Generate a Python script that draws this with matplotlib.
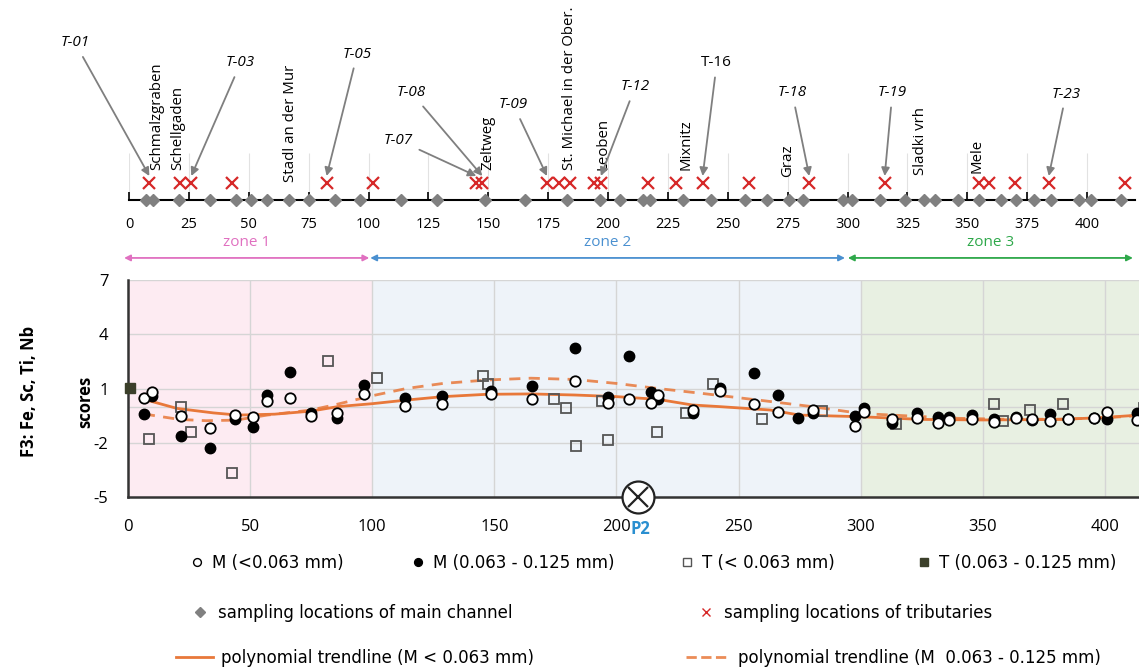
import matplotlib
matplotlib.use("Agg")
import matplotlib.pyplot as plt
from matplotlib.lines import Line2D

plt.rcParams["font.family"] = ["Open Sans", "DejaVu Sans"]
plt.rcParams["axes.unicode_minus"] = False

# --- data -------------------------------------------------------------
# top panel: river km of sampling locations
main_km = [7, 10, 21, 34, 44.5, 51, 57.5, 67, 75, 86, 96.5, 113.5, 128.5, 148.5,
           165.5, 183, 196.5, 205, 214.5, 217.5, 231.5, 243, 257, 266.5, 275.5,
           281.5, 298, 302, 313.5, 324, 332, 336.5, 346, 355, 364, 370.5, 378,
           385, 396.5, 401.5, 414]
trib_km = [8.5, 21.5, 26, 43, 82.5, 102, 145, 147.5, 174.5, 179.5, 184, 194, 197,
           216.5, 228.5, 239.5, 259, 284, 315.5, 355, 359, 370, 384, 416]

places = ["Schmalzgraben", "Schellgaden", "Stadl an der Mur", "Zeltweg",
          "St. Michael in der Ober.", "Leoben", "Mixnitz", "Graz", "Sladki vrh", "Mele"]
place_km = [11.5, 20.5, 67.5, 150, 184, 198, 232.5, 275, 330.5, 354]

trib_labels = ["T-01", "T-03", "T-05", "T-07", "T-08", "T-09", "T-12", "T-16",
               "T-18", "T-19", "T-23"]
trib_label_km = [8.5, 26, 82.5, 145, 147.5, 174.5, 197, 239.5, 284, 315.5, 384]

# bottom panel: F3 scores
m_fine_x = [6.5, 10, 21.5, 33.5, 44, 51, 57, 66.5, 75, 85.5, 96.5, 113.5, 128.5,
            148.5, 165.5, 183, 196.5, 205, 214, 217, 231.5, 242.5, 256.5, 266,
            280.5, 297.5, 301.5, 313, 323, 331.5, 336, 345.5, 354.5, 363.5, 370,
            377.5, 385, 395.5, 401, 413]
m_fine_y = [0.46, 0.79, -0.52, -1.17, -0.47, -0.6, 0.32, 0.49, -0.5, -0.38, 0.67,
            0.05, 0.12, 0.68, 0.42, 1.43, 0.18, 0.42, 0.18, 0.64, -0.19, 0.88, 0.14,
            -0.32, -0.19, -1.06, -0.32, -0.69, -0.65, -0.93, -0.75, -0.69, -0.84,
            -0.65, -0.71, -0.8, -0.71, -0.65, -0.28, -0.75]

m_coarse_x = [6.5, 10, 21.5, 33.5, 44, 51, 57, 66.5, 75, 85.5, 96.5, 113.5, 128.5,
              148.5, 165.5, 183, 196.5, 205, 214, 217, 231.5, 242.5, 256.5, 266,
              274.5, 280.5, 297.5, 301.5, 313, 323, 331.5, 336, 345.5, 354.5,
              363.5, 370, 377.5, 385, 395.5, 401, 413]
m_coarse_y = [-0.43, 0.58, -1.61, -2.31, -0.71, -1.11, 0.64, 1.93, -0.34, -0.65,
              1.19, 0.46, 0.58, 0.88, 1.14, 3.22, 0.51, 2.8, 0.82, 0.4, -0.38, 1.04,
              1.84, 0.64, -0.61, -0.38, -0.5, -0.1, -0.93, -0.34, -0.56, -0.6,
              -0.47, -0.71, -0.56, -0.75, -0.41, -0.71, -0.65, -0.69, -0.38]

t_fine_x = [8.5, 21.5, 26, 42.5, 82, 102, 145.5, 147.5, 174.5, 179.5, 183.5, 194,
            196.5, 216.5, 228.5, 239.5, 259.5, 284, 314.5, 354.5, 358.5, 369.5,
            383, 416]
t_fine_y = [-1.79, -0.02, -1.41, -3.7, 2.5, 1.6, 1.71, 1.23, 0.42, -0.1, -2.16,
            0.31, -1.85, -1.43, -0.36, 1.25, -0.71, -0.24, -0.97, 0.12, -0.8,
            -0.19, 0.12, -0.1]

t_coarse_x = [1]
t_coarse_y = [1.04]

# trendlines
trend_x = [5, 20, 35, 45, 60, 75, 86, 100, 114, 129, 147, 165, 183, 200, 217,
           231, 242, 263, 275, 300, 325, 350, 382, 400, 414]
trend_solid = [0.46, -0.1, -0.35, -0.47, -0.42, -0.25, 0.0, 0.16, 0.36, 0.55,
               0.68, 0.7, 0.64, 0.55, 0.4, 0.09, 0.0, -0.19, -0.47, -0.56, -0.71,
               -0.74, -0.71, -0.6, -0.47]
trend_dash_x = [6.5, 21, 32, 44, 57, 75, 86, 100, 114, 129, 147, 165, 183, 200,
                217, 235, 260, 280, 300, 320, 340, 360, 380, 400, 414]
trend_dash = [-0.41, -0.71, -0.78, -0.75, -0.47, -0.19, 0.14, 0.6, 1.0, 1.28,
              1.47, 1.57, 1.5, 1.28, 1.0, 0.73, 0.33, 0.0, -0.38, -0.52, -0.65,
              -0.7, -0.7, -0.62, -0.5]

zones = ["zone 1", "zone 2", "zone 3"]
zone_arrows = [(-1.6, 98.8), (99.2, 293.6), (294.8, 411.5)]
zone_bounds = [0, 100, 300, 414]

p2_km = 209

# --- layout / style ---------------------------------------------------
W, H = 1139, 670
fig = plt.figure(figsize=(W / 100, H / 100), dpi=100)

zone_bg = ["#fdebf2", "#eef3f9", "#e8f0e2"]
zone_col = ["#e070c0", "#4a90d0", "#2ea84a"]
orange = "#e8783a"

# top panel (y in pixels above the axis line)
axt = fig.add_axes([129 / W, (H - 200) / H, 1006 / W, 200 / H])
axt.set_xlim(0, 420)
axt.set_ylim(0, 200)
axt.patch.set_alpha(0)
for s in ["top", "right", "left"]:
    axt.spines[s].set_visible(False)
axt.spines["bottom"].set_linewidth(1.5)
axt.spines["bottom"].set_color("black")
ticks_top = list(range(0, 401, 25))
axt.set_xticks(ticks_top)
axt.tick_params(axis="x", direction="in", length=6, width=1.2, pad=12,
                labelsize=10.5, colors="black")
axt.set_yticks([])
axt.vlines(ticks_top, 0, 47, color="#e2e2e2", lw=0.8, zorder=0)

axt.plot(main_km, [0] * len(main_km), ls="none", marker="D", ms=6.5,
         color="#808080", clip_on=False, zorder=3,
         label="sampling locations of main channel")
axt.plot(trib_km, [17] * len(trib_km), ls="none", marker="x", ms=8.5, mew=1.6,
         color="#d62828", clip_on=False, zorder=3,
         label="sampling locations of tributaries")

place_base = [30, 30, 18, 30, 30, 30, 30, 23, 25, 27]
for name, km, b in zip(places, place_km, place_base):
    axt.text(km, b, name, rotation=90, ha="center", va="bottom", fontsize=10.8)

label_pos = [(-22.5, 157), (46.6, 137), (95.3, 146), (112.4, 60), (118, 107),
             (160.5, 95), (211.3, 113), (245.4, 137), (276.9, 107), (318.7, 107),
             (391.2, 106)]
for lab, km, (tx, ty) in zip(trib_labels, trib_label_km, label_pos):
    axt.annotate(lab, xy=(km, 24), xytext=(tx, ty), ha="center", va="center",
                 fontsize=11, style="normal" if lab == "T-16" else "italic",
                 annotation_clip=False,
                 arrowprops=dict(arrowstyle="-|>", color="#7f7f7f", lw=1.3,
                                 mutation_scale=12, shrinkA=3, shrinkB=0))

# bottom panel
ax = fig.add_axes([128 / W, (H - 497) / H, 1011 / W, 217 / H])
ax.set_xlim(0, 414)
ax.set_ylim(-5, 7)
for x0, x1, c in zip(zone_bounds[:-1], zone_bounds[1:], zone_bg):
    ax.axvspan(x0, x1, color=c, zorder=0, lw=0)
ax.set_yticks([7, 4, 1, -2, -5])
ax.set_xticks(range(0, 401, 50))
for yv in [7, 4, 1, 0, -2]:
    ax.axhline(yv, color="#d5d5d5", lw=1.0, zorder=1)
for xv in range(50, 401, 50):
    ax.axvline(xv, color="#d5d5d5", lw=1.0, zorder=1)
for s in ["top", "right"]:
    ax.spines[s].set_visible(False)
for s in ["left", "bottom"]:
    ax.spines[s].set_color("#333333")
    ax.spines[s].set_linewidth(1.8)
ax.tick_params(axis="both", length=0, labelsize=12)
ax.tick_params(axis="y", pad=14)
ax.tick_params(axis="x", pad=16)

ax.plot(trend_x, trend_solid, color=orange, lw=2, zorder=2,
        label="polynomial trendline (M < 0.063 mm)")
ax.plot(trend_dash_x, trend_dash, color=orange, lw=2, ls=(0, (4, 3)), alpha=0.85,
        zorder=2, label="polynomial trendline (M  0.063 - 0.125 mm)")

ax.plot(m_coarse_x, m_coarse_y, ls="none", marker="o", ms=7.5, color="black",
        zorder=4, clip_on=False, label="M (0.063 - 0.125 mm)")
ax.plot(m_fine_x, m_fine_y, ls="none", marker="o", ms=7.5, mfc="white",
        mec="black", mew=1.3, zorder=5, clip_on=False, label="M (<0.063 mm)")
ax.plot(t_fine_x, t_fine_y, ls="none", marker="s", ms=7, mfc="none",
        mec="#555555", mew=1.3, zorder=3, clip_on=False, label="T (< 0.063 mm)")
ax.plot(t_coarse_x, t_coarse_y, ls="none", marker="s", ms=7, color="#3b3f2a",
        zorder=4, clip_on=False, label="T (0.063 - 0.125 mm)")

# P2 marker
ax.plot([p2_km], [-5], ls="none", marker="o", ms=23, mfc="white", mec="#222222",
        mew=1.6, clip_on=False, zorder=6)
ax.plot([p2_km], [-5], ls="none", marker="x", ms=14, mec="#222222", mew=1.6,
        clip_on=False, zorder=7)
ax.text(p2_km + 1, -6.75, "P2", color="#2a8fd0", fontsize=12, fontweight="bold",
        ha="center", va="center", clip_on=False, zorder=8)

# zone arrows
for z, (x0, x1), c in zip(zones, zone_arrows, zone_col):
    ax.annotate("", xy=(x0, 8.22), xytext=(x1, 8.22), annotation_clip=False,
                arrowprops=dict(arrowstyle="<|-|>", color=c, lw=1.3,
                                mutation_scale=9, shrinkA=0, shrinkB=0))
    ax.text((x0 + x1) / 2, 9.05, z, color=c, fontsize=11, ha="center",
            va="center", clip_on=False)

fig.text(85 / W, 1 - 402 / H, "scores", rotation=90, ha="center", va="center",
         fontsize=12, fontweight="bold")
fig.text(29 / W, 1 - 391 / H, "F3: Fe, Sc, Ti, Nb", rotation=90, ha="center",
         va="center", fontsize=12, fontweight="bold")

# legend entries, each placed on its own
handles = {h.get_label(): h for h in ax.get_lines() + axt.get_lines()
           if not h.get_label().startswith("_")}
legend_spots = [("M (<0.063 mm)", 190, 563, 0.8), ("M (0.063 - 0.125 mm)", 411, 563, 0.8),
                ("T (< 0.063 mm)", 680, 563, 0.8), ("T (0.063 - 0.125 mm)", 917, 563, 0.8),
                ("sampling locations of main channel", 190, 613, 1.2),
                ("sampling locations of tributaries", 696, 613, 1.2),
                ("polynomial trendline (M < 0.063 mm)", 176, 658, 2.2),
                ("polynomial trendline (M  0.063 - 0.125 mm)", 686, 658, 2.6)]
for lab, px, py, hl in legend_spots:
    h = handles[lab]
    proxy = Line2D([], [], ls=h.get_linestyle(), lw=h.get_linewidth(),
                   color=h.get_color(), marker=h.get_marker(),
                   ms=h.get_markersize() * 0.75, mfc=h.get_markerfacecolor(),
                   mec=h.get_markeredgecolor(), mew=1.0, alpha=h.get_alpha())
    fig.legend([proxy], [lab], loc="center left", bbox_to_anchor=(px / W, 1 - py / H),
               frameon=False, handlelength=hl, handletextpad=0.5, borderpad=0,
               borderaxespad=0, prop={"family": "DejaVu Sans", "size": 12})

fig.savefig("out.png", dpi=100)
